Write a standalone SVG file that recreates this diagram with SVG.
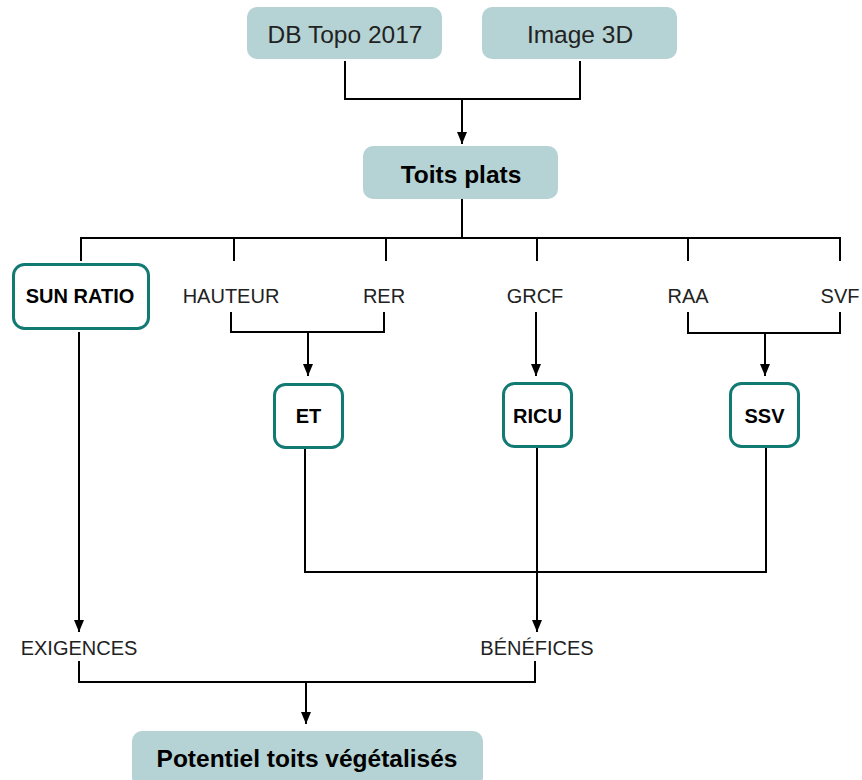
<svg xmlns="http://www.w3.org/2000/svg" width="862" height="780" viewBox="0 0 862 780">
<defs>
<marker id="arr" viewBox="0 0 12 10" refX="12" refY="5" markerWidth="12" markerHeight="10" markerUnits="userSpaceOnUse" orient="auto">
<path d="M0,0 L12,5 L0,10 Z" fill="#000"/>
</marker>
<style>
.src{fill:#b5d3d4;}
.box{fill:#fff;stroke:#117a72;stroke-width:3;}
.t{font-family:"Liberation Sans",Arial,sans-serif;fill:#222;text-anchor:middle;}
.lt{font-size:20px;}
.big{font-size:24.5px;}
.b{font-weight:bold;fill:#000;}
.c{fill:none;stroke:#000;stroke-width:2;}
</style>
</defs>
<rect width="862" height="780" fill="#fff"/>
<g id="connectors">
<path class="c" d="M345,61 V99 H580 V61"/>
<path class="c" d="M462,99 V144" marker-end="url(#arr)"/>
<path class="c" d="M462,199 V238"/>
<path class="c" d="M81,261 V238 H840 V261"/>
<path class="c" d="M234,238 V261 M386,238 V261 M537,238 V261 M688,238 V261"/>
<path class="c" d="M231,312 V332 H384 V312"/>
<path class="c" d="M308,332 V376" marker-end="url(#arr)"/>
<path class="c" d="M536,312 V376" marker-end="url(#arr)"/>
<path class="c" d="M688,312 V333 H840 V312"/>
<path class="c" d="M765,333 V376" marker-end="url(#arr)"/>
<path class="c" d="M79,332 V632" marker-end="url(#arr)"/>
<path class="c" d="M305,449 V572 H766 V448"/>
<path class="c" d="M537,448 V632" marker-end="url(#arr)"/>
<path class="c" d="M79,661 V682 H535 V661"/>
<path class="c" d="M306,682 V724" marker-end="url(#arr)"/>
</g>
<g id="db-topo">
<rect class="src" x="247" y="7" width="195" height="52" rx="10"/>
<text class="t big" x="345" y="43">DB Topo 2017</text>
</g>
<g id="image-3d">
<rect class="src" x="482" y="7" width="195" height="52" rx="10"/>
<text class="t big" x="580" y="43">Image 3D</text>
</g>
<g id="toits-plats">
<rect class="src" x="363" y="146" width="195" height="53" rx="10"/>
<text class="t big b" x="461" y="183">Toits plats</text>
</g>
<g id="sun-ratio">
<rect class="box" x="13.5" y="264.5" width="135" height="64" rx="11"/>
<text class="t lt b" x="80" y="303">SUN RATIO</text>
</g>
<g id="hauteur"><text class="t lt" x="231" y="303">HAUTEUR</text></g>
<g id="rer"><text class="t lt" x="384" y="303">RER</text></g>
<g id="grcf"><text class="t lt" x="535" y="303">GRCF</text></g>
<g id="raa"><text class="t lt" x="688" y="303">RAA</text></g>
<g id="svf"><text class="t lt" x="840" y="303">SVF</text></g>
<g id="et">
<rect class="box" x="274.5" y="384.5" width="68" height="63" rx="11"/>
<text class="t lt b" x="308.5" y="423">ET</text>
</g>
<g id="ricu">
<rect class="box" x="503.5" y="383.5" width="68" height="63" rx="11"/>
<text class="t lt b" x="537.5" y="423">RICU</text>
</g>
<g id="ssv">
<rect class="box" x="730.5" y="383.5" width="68" height="63" rx="11"/>
<text class="t lt b" x="764.5" y="423">SSV</text>
</g>
<g id="exigences"><text class="t lt" x="79" y="655">EXIGENCES</text></g>
<g id="benefices"><text class="t lt" x="537" y="655">BÉNÉFICES</text></g>
<g id="potentiel">
<rect class="src" x="132" y="731" width="351" height="56" rx="10"/>
<text class="t b" x="307" y="767" font-size="24.5">Potentiel toits végétalisés</text>
</g>
</svg>
